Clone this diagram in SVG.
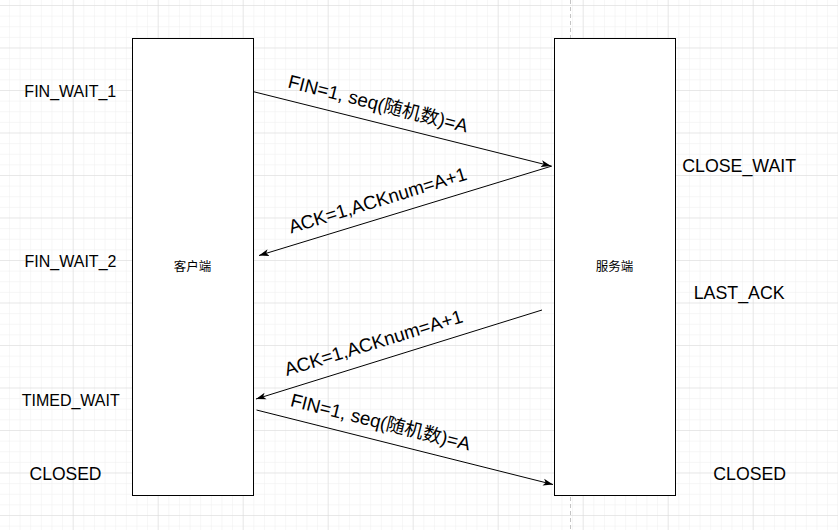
<svg xmlns="http://www.w3.org/2000/svg" width="838" height="530" viewBox="0 0 838 530">
<defs>
<pattern id="minor" width="10.625" height="10.625" patternUnits="userSpaceOnUse" x="8.95" y="5">
<path d="M10.625 0H0V10.625" fill="none" stroke="#eeeeee" stroke-width="1"/>
</pattern>
<pattern id="major" width="85" height="42.5" patternUnits="userSpaceOnUse" x="72.7" y="5">
<path d="M85 0H0V42.5" fill="none" stroke="#dadada" stroke-width="1"/>
</pattern>
<marker id="arrow" markerWidth="11" markerHeight="8" refX="10" refY="4" orient="auto" markerUnits="userSpaceOnUse">
<path d="M0,0.5 L10,4 L0,7.5 L2.5,4 Z" fill="#000"/>
</marker>
<style>
.box{fill:#fff;stroke:#000;stroke-width:1}
.t{font-family:"Liberation Sans",Arial,"Noto Sans CJK SC",sans-serif;fill:#000;text-anchor:middle}
.edge{fill:none;stroke:#000;stroke-width:1;marker-end:url(#arrow)}
.lbl{font-size:18.8px}
.page{stroke:#c4c4c4;stroke-width:1;stroke-dasharray:4 3;fill:none}
</style>
</defs>
<rect width="838" height="530" fill="#fff"/>
<rect width="838" height="530" fill="url(#minor)"/>
<rect width="838" height="530" fill="url(#major)"/>
<path class="page" d="M570.5 0V530"/>

<g id="client">
<rect class="box" x="132.5" y="38.5" width="121" height="457"/>
<text class="t" x="192.5" y="270.5" font-size="12.5">客户端</text>
</g>
<g id="server">
<rect class="box" x="554.5" y="38.5" width="121" height="457"/>
<text class="t" x="614.5" y="270.5" font-size="12.5">服务端</text>
</g>

<g id="states">
<text class="t" x="70.3" y="97.3" font-size="16">FIN_WAIT_1</text>
<text class="t" x="70.5" y="267.3" font-size="16">FIN_WAIT_2</text>
<text class="t" x="70.7" y="405.7" font-size="16">TIMED_WAIT</text>
<text class="t" x="65.5" y="480" font-size="17.5">CLOSED</text>
<text class="t" x="739.2" y="172.3" font-size="17.8">CLOSE_WAIT</text>
<text class="t" x="739.2" y="299" font-size="17.8">LAST_ACK</text>
<text class="t" x="749.7" y="480" font-size="17.7">CLOSED</text>
</g>

<g id="connectors">
<path class="edge" d="M253.5 91.7L551 166"/>
<path class="edge" d="M552 166L259 255.5"/>
<path class="edge" d="M542 310L256 399"/>
<path class="edge" d="M256.5 410L553 484.5"/>
</g>

<g id="edge-labels">
<text class="t lbl" transform="translate(376.5 110) rotate(14.2)">FIN=1, seq(随机数)=A</text>
<text class="t lbl" transform="translate(379.5 206.5) rotate(-17)">ACK=1,ACKnum=A+1</text>
<text class="t lbl" transform="translate(375.3 349) rotate(-17)">ACK=1,ACKnum=A+1</text>
<text class="t lbl" transform="translate(379 428.3) rotate(14)">FIN=1, seq(随机数)=A</text>
</g>
</svg>
